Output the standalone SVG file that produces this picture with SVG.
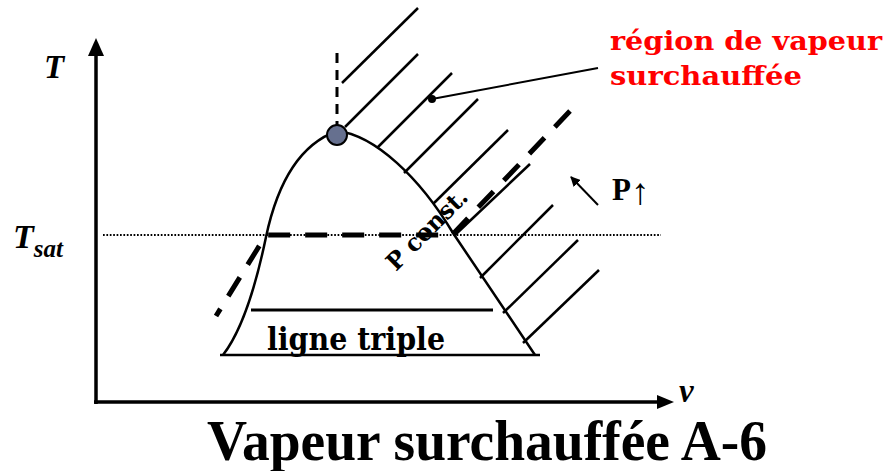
<svg xmlns="http://www.w3.org/2000/svg" width="889" height="471" viewBox="0 0 889 471">
<defs>
<style>
.ln{stroke:#000;fill:none;stroke-width:2.5}
.hatch{stroke:#000;stroke-width:2.5;fill:none}
.lbl{font-family:"Liberation Serif",serif;font-weight:bold;font-style:italic;fill:#000}
.bl{font-family:"DejaVu Serif","Liberation Serif",serif;font-weight:bold;fill:#000}
.red{font-family:"DejaVu Serif","Liberation Serif",serif;font-weight:bold;fill:#ff0000}
</style>
<marker id="ah" viewBox="0 0 10 10" refX="9" refY="5" markerWidth="10" markerHeight="10" markerUnits="userSpaceOnUse" orient="auto">
<path d="M0,0 L10,5 L0,10 z" fill="#000"/>
</marker>
</defs>
<rect width="889" height="471" fill="#fff"/>

<g id="axes">
<line x1="96" y1="404" x2="96" y2="55" stroke="#000" stroke-width="3.5"/>
<polygon points="96,38 88,56 104,56" fill="#000"/>
<line x1="94" y1="402" x2="658" y2="402" stroke="#000" stroke-width="3.5"/>
<polygon points="674,402 657,395 657,409" fill="#000"/>
</g>

<g id="tsat-line">
<line x1="103" y1="235" x2="661" y2="235" stroke="#000" stroke-width="2" stroke-dasharray="1.7 1.7"/>
</g>

<g id="dome">
<path class="ln" d="M223,355 C240,333 255,290 266,237 C277,185 298,145 337,131 C375,135 420,178 453,233 L535,355"/>
<line x1="220" y1="355" x2="540" y2="355" stroke="#000" stroke-width="2.5"/>
<line x1="251" y1="310" x2="493" y2="310" stroke="#000" stroke-width="3"/>
</g>

<g id="hatching">
<line class="hatch" x1="342" y1="83" x2="418" y2="8"/>
<line class="hatch" x1="345" y1="127" x2="418" y2="54"/>
<line class="hatch" x1="377" y1="148" x2="452" y2="73"/>
<line class="hatch" x1="404" y1="173" x2="478" y2="99"/>
<line class="hatch" x1="433" y1="204" x2="508" y2="130"/>
<line class="hatch" x1="455" y1="235" x2="530" y2="164"/>
<line class="hatch" x1="480" y1="278" x2="553" y2="205"/>
<line class="hatch" x1="503" y1="313" x2="578" y2="240"/>
<line class="hatch" x1="523" y1="343" x2="599" y2="270"/>
</g>

<g id="critical-point">
<line x1="337" y1="53" x2="337" y2="125" stroke="#000" stroke-width="3" stroke-dasharray="10 7"/>
<circle cx="337" cy="135" r="10" fill="#66708f" stroke="#000" stroke-width="2"/>
</g>

<g id="connectors">
<path d="M570,111 L452,235 L266,235 L216,316" fill="none" stroke="#000" stroke-width="5" stroke-dasharray="22 15"/>
<circle cx="432" cy="99" r="4" fill="#000"/>
<line x1="432" y1="99" x2="598" y2="68" stroke="#000" stroke-width="2"/>
<line x1="598" y1="205" x2="571" y2="177" stroke="#000" stroke-width="2" marker-end="url(#ah)"/>
</g>

<g id="labels">
<text class="lbl" x="44" y="78" font-size="33">T</text>
<text class="lbl" x="13" y="248" font-size="34">T<tspan font-size="25" dy="9">sat</tspan></text>
<text class="lbl" x="679" y="402" font-size="33">v</text>
<text class="bl" x="396" y="272" font-size="24" textLength="104" lengthAdjust="spacingAndGlyphs" transform="rotate(-45 396 272)">P const.</text>
<text class="bl" x="267" y="350" font-size="31" textLength="178" lengthAdjust="spacingAndGlyphs">ligne triple</text>
<text x="612" y="200" font-family="Liberation Serif,serif" font-weight="bold" font-size="31">P<tspan font-weight="normal" font-size="37" dy="4">↑</tspan></text>
<text class="red" x="610" y="50" font-size="26" textLength="272" lengthAdjust="spacingAndGlyphs">région de vapeur</text>
<text class="red" x="610" y="85" font-size="26" textLength="192" lengthAdjust="spacingAndGlyphs">surchauffée</text>
<text x="207" y="460" font-family="Liberation Serif,serif" font-weight="bold" font-size="57" textLength="560" lengthAdjust="spacingAndGlyphs">Vapeur surchauffée A-6</text>
</g>
</svg>
